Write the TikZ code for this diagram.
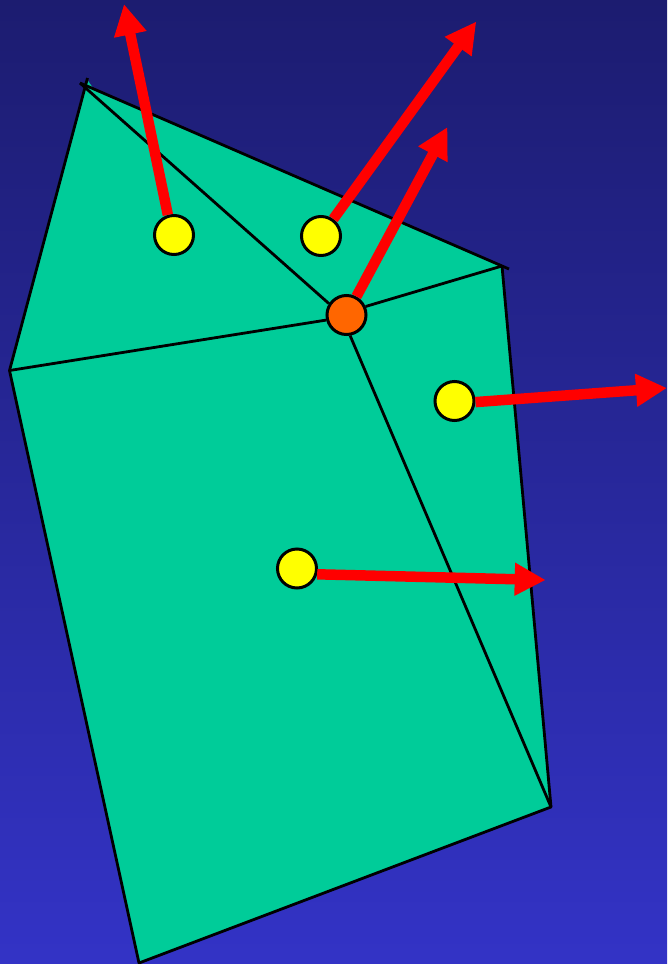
\documentclass[tikz,border=0pt]{standalone}
\usepackage{tikz}
\usetikzlibrary{arrows.meta}
\definecolor{fondoalto}{HTML}{1C1C70}
\definecolor{fondobajo}{HTML}{3333C6}
\definecolor{placa}{HTML}{00CC99}
\definecolor{punto}{HTML}{FFFF00}
\definecolor{nodo}{HTML}{FF6600}
\definecolor{normal}{HTML}{FF0000}
\begin{document}
\begin{tikzpicture}[x=1pt, y=-1pt,
      >={Triangle[length=31pt,width=31pt]},
      centro/.style={circle, draw=black, line width=3pt, minimum size=39pt, inner sep=0pt, fill=punto},
      vertice/.style={circle, draw=black, line width=3pt, minimum size=39pt, inner sep=0pt, fill=nodo},
      arista/.style={draw=black, line width=2.8pt},
      flecha/.style={->, draw=normal, line width=10.5pt}]
    \useasboundingbox (0,0) rectangle (667,964);
    \shade[top color=fondoalto, bottom color=fondobajo] (0,0) rectangle (667,964);
    \fill[placa] (87.5,80) -- (93,88) -- (502,266) -- (551,807) -- (139,963) -- (9.5,370.5) -- cycle;
    % vertices
    \coordinate (cima) at (87.5,78);
    \coordinate (cimab) at (80,83);
    \coordinate (esquina) at (509,269);
    \coordinate (esquinab) at (502,266);
    \coordinate (derecha) at (551,807);
    \coordinate (abajo) at (139,963);
    \coordinate (izq) at (9.5,370.5);
    % puntos
    \node[centro] (c1) at (174,235) {};
    \node[centro] (c2) at (321,236) {};
    \node[centro] (c3) at (454.5,401) {};
    \node[centro] (c4) at (297,568.5) {};
    \node[vertice] (v) at (346.5,315) {};
    % puntas
    \coordinate (p1) at (124,4);
    \coordinate (p2) at (476.3,21.5);
    \coordinate (p3) at (447.5,127);
    \coordinate (p4) at (667,388);
    \coordinate (p5) at (545.7,580);
    % aristas
    \draw[arista, line join=round] (cima) -- (izq) -- (abajo) -- (derecha) -- (esquinab);
    \draw[arista] (cimab) -- (esquina);
    \draw[arista] (v.147) -- (cimab);
    \draw[arista] (v.194) -- (izq);
    \draw[arista] (v.24) -- (esquinab);
    \draw[arista] (v.-80) -- (derecha);
    % normales
    \draw[flecha] (c1.107) -- (p1);
    \draw[flecha] (c2) -- (p2);
    \draw[flecha] (v) -- (p3);
    \draw[flecha] (c3.-3) -- (p4);
    \draw[flecha] (c4.-16) -- (p5);
  \end{tikzpicture}
\end{document}
